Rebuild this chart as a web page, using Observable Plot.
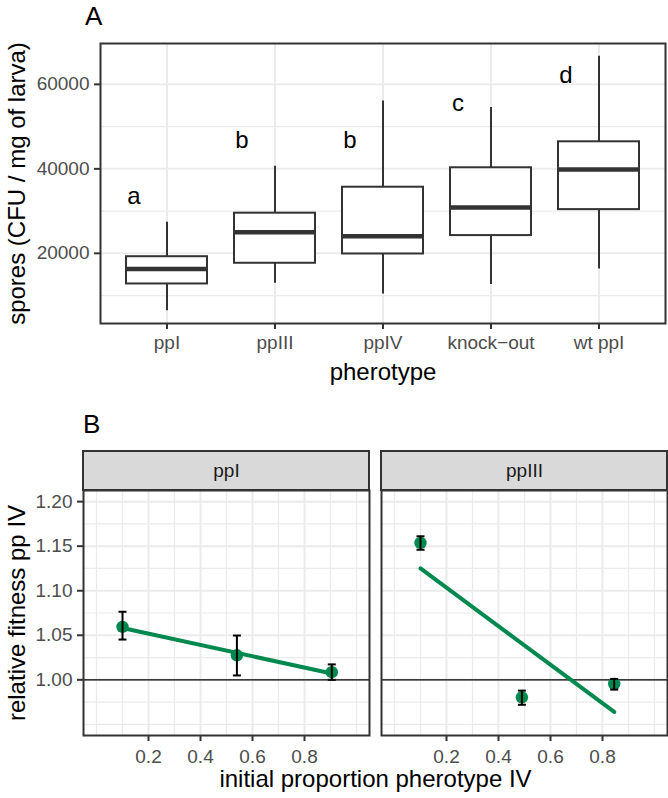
<!DOCTYPE html>
<html><head><meta charset="utf-8">
<script src="https://cdn.jsdelivr.net/npm/d3@7"></script>
<script src="https://cdn.jsdelivr.net/npm/@observablehq/plot@0.6"></script>
<style>
body{margin:0;background:#fff;}
#wrap{position:relative;width:668px;height:798px;font-family:"Liberation Sans",Arial,Helvetica,sans-serif;overflow:hidden;}
.tag{position:absolute;font-size:26px;line-height:26px;color:#000;}
#chartA{position:absolute;left:0;top:0;}
#chartB{position:absolute;left:0;top:395px;}
</style></head><body>
<div id="wrap">
<div id="chartA"></div><div id="chartB"></div>
<div class="tag" style="left:85px;top:3px">A</div>
<div class="tag" style="left:83px;top:411px">B</div>
</div>
<script>
// ---------- Panel A data ----------
const phenotypes = ["ppI", "ppIII", "ppIV", "knock-out", "wt ppI"];
const tickLabelsA = ["ppI", "ppIII", "ppIV", "knock\u2212out", "wt ppI"];
const whiskerLow  = [6400, 12900, 10400, 12600, 16300];
const quart1      = [12750, 17650, 19850, 24200, 30350];
const medianVal   = [16300, 25000, 24050, 30850, 39850];
const quart3      = [19200, 29500, 35650, 40250, 46400];
const whiskerHigh = [27350, 40600, 56050, 54500, 66650];
const sigLetters  = ["a", "b", "b", "c", "d"];
const sigLetterY  = [33500, 46700, 46700, 55400, 62150];
const yTicksA = [20000, 40000, 60000];
const yMinorA = [10000, 30000, 50000];

// ---------- Panel B data ----------
const facetNames = ["ppI", "ppIII"];
const facetOf = ["ppI", "ppI", "ppI", "ppIII", "ppIII", "ppIII"];
const initialProportion = [0.10, 0.54, 0.905, 0.10, 0.49, 0.845];
const relativeFitness   = [1.0594, 1.0275, 1.0086, 1.1537, 0.9804, 0.9955];
const fitnessLow        = [1.0452, 1.0049, 1.0000, 1.1460, 0.9720, 0.9890];
const fitnessHigh       = [1.0764, 1.0497, 1.0173, 1.1611, 0.9879, 1.0010];
const xTicksB = [0.2, 0.4, 0.6, 0.8];
const xMinorB = [0, 0.1, 0.3, 0.5, 0.7, 0.9, 1.0];
const yTicksB = [1.00, 1.05, 1.10, 1.15, 1.20];
const yMinorB = [0.95, 0.975, 1.025, 1.075, 1.125, 1.175];

const font = '"Liberation Sans", Arial, Helvetica, sans-serif';
const green = "#00894E";
const gridCol = "#EBEBEB";
const dark = "#333333";

// ---------- Panel A ----------
const dataA = phenotypes.map((p, i) => ({
  p, lo: whiskerLow[i], q1: quart1[i], med: medianVal[i], q3: quart3[i],
  hi: whiskerHigh[i], letter: sigLetters[i], ly: sigLetterY[i]
}));

const plotA = Plot.plot({
  width: 668, height: 395,
  marginLeft: 100, marginRight: 3, marginTop: 43, marginBottom: 72,
  style: {fontFamily: font, background: "white", overflow: "visible"},
  x: {domain: phenotypes, paddingInner: 0.25, paddingOuter: 0.225},
  y: {domain: [3390, 69670]},
  marks: [
    Plot.gridY(yMinorA, {stroke: gridCol, strokeOpacity: 1, strokeWidth: 1.2}),
    Plot.gridY(yTicksA, {stroke: gridCol, strokeOpacity: 1, strokeWidth: 2}),
    Plot.gridX(phenotypes, {stroke: gridCol, strokeOpacity: 1, strokeWidth: 2}),
    Plot.ruleX(dataA, {x: "p", y1: "lo", y2: "hi", stroke: dark, strokeWidth: 2}),
    Plot.barY(dataA, {x: "p", y1: "q1", y2: "q3", fill: "white", stroke: dark, strokeWidth: 2}),
    Plot.tickY(dataA, {x: "p", y: "med", stroke: dark, strokeWidth: 4.5}),
    Plot.text(dataA, {x: "p", y: "ly", text: "letter", dx: -33, fontSize: 24, fill: "black"}),
    Plot.frame({stroke: dark, strokeWidth: 2}),
    Plot.axisX({tickSize: 6, tickPadding: 6, fontSize: 19, fill: "#4D4D4D", stroke: dark, strokeWidth: 2,
      tickFormat: d => tickLabelsA[phenotypes.indexOf(d)], label: null}),
    Plot.axisY({ticks: yTicksA, tickFormat: d => String(d), tickSize: 6, tickPadding: 5, fontSize: 19,
      fill: "#4D4D4D", stroke: dark, strokeWidth: 2, label: null}),
    Plot.text(["spores (CFU / mg of larva)"], {text: d => d, frameAnchor: "left", rotate: -90, dx: -83,
      textAnchor: "middle", lineAnchor: "middle", fontSize: 24, fill: "black"}),
    Plot.text(["pherotype"], {text: d => d, frameAnchor: "bottom", dy: 49, textAnchor: "middle",
      lineAnchor: "middle", fontSize: 24, fill: "black"})
  ]
});
document.getElementById("chartA").appendChild(plotA);

// ---------- Panel B ----------
const dataB = facetOf.map((f, i) => ({
  f, x: initialProportion[i], y: relativeFitness[i], lo: fitnessLow[i], hi: fitnessHigh[i]
}));

const capSymbol = {
  draw(ctx, size) {
    const r = Math.sqrt(size / Math.PI);
    ctx.moveTo(-r, 0); ctx.lineTo(r, 0);
  }
};

const plotB = Plot.plot({
  width: 668, height: 403,
  marginLeft: 83, marginRight: 1, marginTop: 95, marginBottom: 63,
  style: {fontFamily: font, background: "white", overflow: "visible"},
  fx: {domain: facetNames, paddingInner: 0.0403, paddingOuter: 0, axis: null, round: false},
  x: {domain: [-0.05, 1.05]},
  y: {domain: [0.9375, 1.2125]},
  marks: [
    Plot.gridX(xMinorB, {stroke: gridCol, strokeOpacity: 1, strokeWidth: 1.2}),
    Plot.gridX(xTicksB, {stroke: gridCol, strokeOpacity: 1, strokeWidth: 2}),
    Plot.gridY(yMinorB, {stroke: gridCol, strokeOpacity: 1, strokeWidth: 1.2}),
    Plot.gridY(yTicksB, {stroke: gridCol, strokeOpacity: 1, strokeWidth: 2}),
    Plot.ruleY([1], {stroke: "black", strokeWidth: 1.3}),
    Plot.linearRegressionY(dataB, {fx: "f", x: "x", y: "y", stroke: green, strokeWidth: 4, ci: 0}),
    Plot.dot(dataB, {fx: "f", x: "x", y: "y", r: 6.2, fill: green, stroke: "none"}),
    Plot.ruleX(dataB, {fx: "f", x: "x", y1: "lo", y2: "hi", stroke: "black", strokeWidth: 2}),
    Plot.dot(dataB, {fx: "f", x: "x", y: "lo", r: 4, symbol: capSymbol, fill: "none", stroke: "black", strokeWidth: 2}),
    Plot.dot(dataB, {fx: "f", x: "x", y: "hi", r: 4, symbol: capSymbol, fill: "none", stroke: "black", strokeWidth: 2}),
    Plot.frame({stroke: dark, strokeWidth: 2}),
    Plot.axisX({ticks: xTicksB, tickFormat: d => d.toFixed(1), tickSize: 6, tickPadding: 8, fontSize: 19,
      fill: "#4D4D4D", stroke: dark, strokeWidth: 2, label: null}),
    Plot.axisY({ticks: yTicksB, tickFormat: d => d.toFixed(2), tickSize: 6, tickPadding: 5, fontSize: 19,
      fill: "#4D4D4D", stroke: dark, strokeWidth: 2, label: null}),
    Plot.text(facetNames, {fx: d => d, text: d => d, frameAnchor: "top", dy: -19.5, lineAnchor: "middle",
      fontSize: 19, fill: "#1A1A1A"}),
    Plot.text(["relative fitness pp IV"], {text: d => d, frameAnchor: "left", rotate: -90, dx: -66,
      textAnchor: "middle", lineAnchor: "middle", fontSize: 24, fill: "black", facet: "super"}),
    Plot.text(["initial proportion pherotype IV"], {text: d => d, frameAnchor: "bottom", dy: 44,
      textAnchor: "middle", lineAnchor: "middle", fontSize: 24, fill: "black", facet: "super"})
  ]
});
document.getElementById("chartB").appendChild(plotB);

// strip backgrounds, positioned from the fx scale
(function () {
  const fx = plotB.scale("fx");
  const svg = d3.select(plotB.tagName.toLowerCase() === "svg" ? plotB : plotB.querySelector("svg"));
  const stripH = 39, top = 95 - stripH;
  const g = svg.insert("g", ":first-child").attr("aria-label", "strips");
  facetNames.forEach(v => {
    g.append("rect")
      .attr("x", fx.apply(v)).attr("y", top)
      .attr("width", fx.bandwidth).attr("height", stripH)
      .attr("fill", "#D9D9D9").attr("stroke", dark).attr("stroke-width", 2);
  });
})();
</script>
</body></html>
